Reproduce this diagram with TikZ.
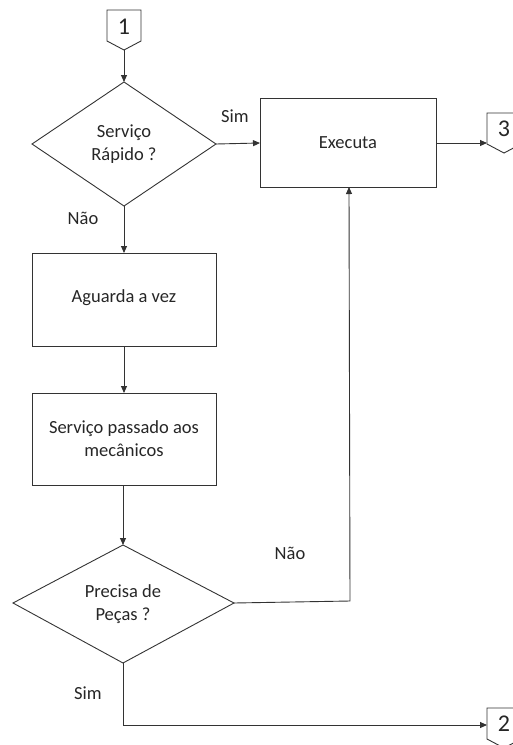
\documentclass[tikz,border=0pt]{standalone}
\usepackage{fontspec}
\setmainfont{Carlito}
\usetikzlibrary{shapes.geometric,arrows.meta}
\begin{document}
\begin{tikzpicture}[x=1pt,y=-1pt,
  every node/.style={font=\fontsize{18.5}{23}\selectfont, text=black!85},
  ln/.style={draw=black!80, line width=0.9pt},
  arr/.style={ln, -{Triangle[length=7pt,width=6pt]}},
  numfont/.style={font=\fontsize{24}{26}\selectfont}
]
\useasboundingbox (0,0) rectangle (513,745);
% off-page connectors
\newcommand{\offpage}[3]{% name, x-left, y-top
  \draw[ln] (#2,#3) -- ++(34,0) -- ++(0,31) -- ++(-17,9) -- ++(-17,-9) -- cycle;
  \coordinate (#1) at (#2+17,#3+40);
}
\offpage{c1}{107}{10}
\node[numfont] (n1) at (124,27) {1};
\offpage{c3}{487}{113}
\coordinate (c3L) at (487,143);
\node[numfont] (n3) at (504,129) {3};
\offpage{c2}{487}{708}
\coordinate (c2L) at (487,725);
\node[numfont] (n2) at (504,724) {2};

% shapes
\draw[ln] (32,144) -- (124,82) -- (216,144) -- (124,206) -- cycle;
\coordinate (d1R) at (216,144);
\coordinate (d1T) at (124,82); \coordinate (d1B) at (124,206);
\node[align=center] (d1) at (124,144) {Serviço\\Rápido ?};

\draw[ln] (260,98) rectangle (436,187);
\node (ex) at (348,142.5) {Executa};
\coordinate (exL) at (260,143); \coordinate (exR) at (436,143);
\coordinate (exB) at (349,187);

\draw[ln] (32,253) rectangle (216,346);
\node (ag) at (124,298) {Aguarda a vez};
\coordinate (agT) at (124,253); \coordinate (agB) at (124,346);

\draw[ln] (32,393) rectangle (216,485);
\node[align=center] (sp) at (124,439) {Serviço passado aos\\mecânicos};
\coordinate (spT) at (124,393); \coordinate (spB) at (123,485);

\draw[ln] (13,603) -- (123,545) -- (234,603) -- (123,663) -- cycle;
\node[align=center] (d2) at (123,604) {Precisa de\\Peças ?};
\coordinate (d2T) at (123,545); \coordinate (d2R) at (234,603);
\coordinate (d2B) at (123,663);

% connectors
\draw[arr] (c1) -- (d1T);
\draw[arr] (d1R) -- (exL);
\draw[arr] (exR) -- (c3L);
\draw[arr] (d1B) -- (agT);
\draw[arr] (agB) -- (spT);
\draw[arr] (spB) -- (d2T);
\coordinate (k1) at (350,601);
\draw[arr] (d2R) -- (k1) -- (exB);
\coordinate (k2) at (123,725);
\draw[arr] (d2B) -- (k2) -- (c2L);

% labels
\node (l1) at (235,116) {Sim};
\node (l2) at (83,218) {Não};
\node (l3) at (290,553) {Não};
\node (l4) at (88,693) {Sim};
\end{tikzpicture}
\end{document}
